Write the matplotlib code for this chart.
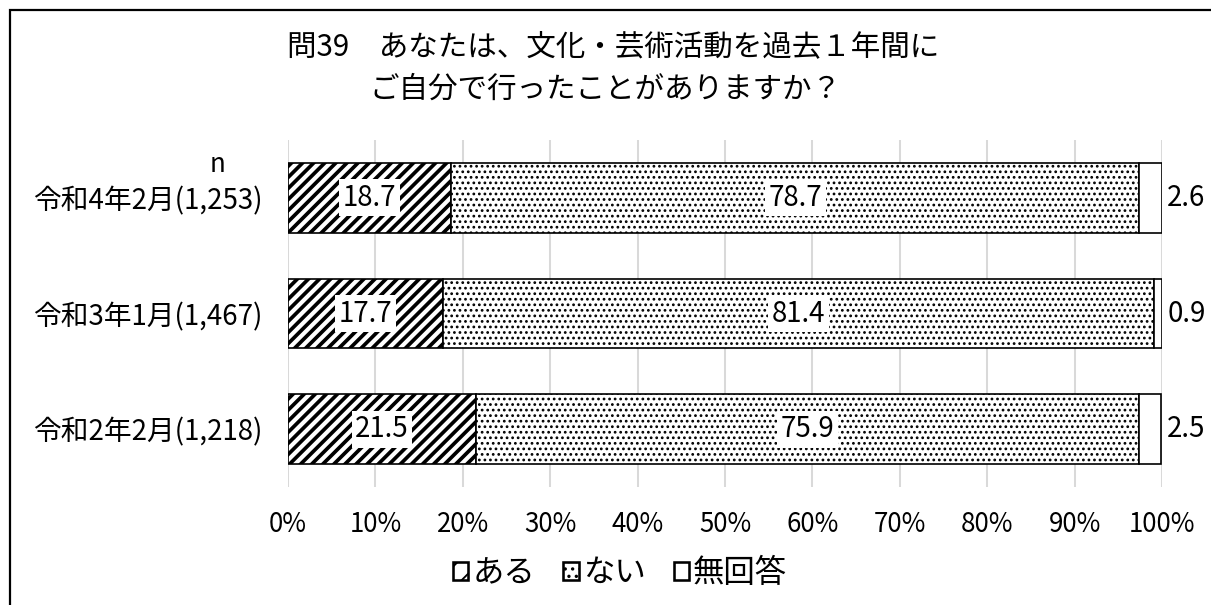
import matplotlib
matplotlib.use("Agg")
import matplotlib.pyplot as plt
from matplotlib.patches import Rectangle, Patch
import numpy as np

plt.rcParams['font.family'] = ['Noto Sans CJK JP', 'DejaVu Sans']

# survey waves, top to bottom
waves = ['令和4年2月(1,253)', '令和3年1月(1,467)', '令和2年2月(1,218)']
aru = [18.7, 17.7, 21.5]      # ある
nai = [78.7, 81.4, 75.9]      # ない
mukaito = [2.6, 0.9, 2.5]     # 無回答
series_names = ['ある', 'ない', '無回答']
xticks = np.arange(0, 101, 10)

title1 = '問39　あなたは、文化・芸術活動を過去１年間に'
title2 = 'ご自分で行ったことがありますか？'

DPI = 133
W, H = 1211, 605
fig = plt.figure(figsize=(W / DPI, H / DPI), dpi=DPI)
ax = fig.add_axes([288 / W, 1 - 487 / H, (1162 - 288) / W, (487 - 140) / H])

y = np.arange(len(waves))
bar_h = 0.6
edge_lw = 0.9
STRIPES = '////'
DOTS = '....'


def hatched(artists, lw):
    for p in artists:
        if hasattr(p, 'set_hatch_linewidth'):
            p.set_hatch_linewidth(lw)


plt.rcParams['hatch.linewidth'] = 2.0
b1 = ax.barh(y, aru, bar_h, color='white', edgecolor='black',
             hatch=STRIPES, linewidth=edge_lw, zorder=3)
hatched(b1, 2.0)

left2 = np.array(aru)
plt.rcParams['hatch.linewidth'] = 0.9
b2 = ax.barh(y, nai, bar_h, left=left2, color='white', edgecolor='black',
             hatch=DOTS, linewidth=edge_lw, zorder=3)
hatched(b2, 0.9)

left3 = left2 + np.array(nai)
b3 = ax.barh(y, mukaito, bar_h, left=left3, color='white',
             edgecolor='black', linewidth=edge_lw, zorder=3)

# value labels
box = dict(facecolor='white', edgecolor='none', pad=2)
for i in range(len(waves)):
    ax.text(aru[i] / 2, y[i], f'{aru[i]:.1f}', ha='center', va='center',
            fontsize=15, bbox=box, zorder=5)
    ax.text(aru[i] + nai[i] / 2, y[i], f'{nai[i]:.1f}', ha='center',
            va='center', fontsize=15, bbox=box, zorder=5)
    ax.text(100.6, y[i], f'{mukaito[i]:.1f}', ha='left', va='center',
            fontsize=15, zorder=5, clip_on=False)

ax.set_xlim(0, 100)
ax.set_ylim(len(waves) - 0.5, -0.5)
ax.set_xticks(xticks)
ax.set_xticklabels([f'{v}%' for v in xticks], fontsize=14)
ax.set_yticks(y)
ax.set_yticklabels(waves, fontsize=15)
ax.tick_params(axis='both', length=0)
ax.tick_params(axis='x', pad=13)
ax.tick_params(axis='y', pad=14)
ax.grid(axis='x', color='#d9d9d9', linewidth=1.1, zorder=0)
for s in ax.spines.values():
    s.set_visible(False)

fig.text(217 / W, 1 - 165 / H, 'n', ha='center', va='center', fontsize=14)

fig.text(613 / W, 1 - 47 / H, title1, ha='center', va='center', fontsize=16)
fig.text(605 / W, 1 - 89 / H, title2, ha='center', va='center', fontsize=16)

plt.rcParams['hatch.linewidth'] = 1.0
handles = [
    Patch(facecolor='white', edgecolor='black', hatch='//', linewidth=1.4),
    Patch(facecolor='white', edgecolor='black', hatch='...', linewidth=1.4),
    Patch(facecolor='white', edgecolor='black', linewidth=1.4),
]
fig.legend(handles, series_names, loc='center', bbox_to_anchor=(620 / W, 1 - 573 / H),
           ncol=3, frameon=False, fontsize=17, handlelength=0.5, handleheight=0.5,
           handletextpad=0.12, columnspacing=0.9)

# outer frame of the chart area
fig.add_artist(Rectangle((10 / W, -0.1), 1.2, 1.1 - 10 / H, transform=fig.transFigure,
                         fill=False, edgecolor='black', linewidth=1.2))

fig.savefig('out.png', dpi=DPI)
